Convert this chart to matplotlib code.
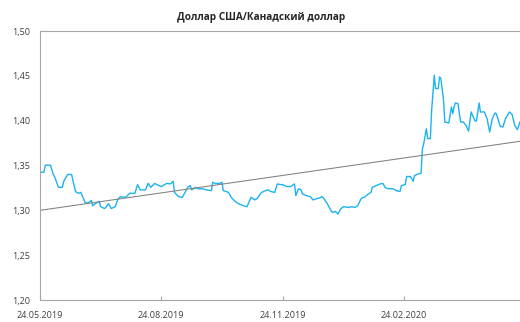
import numpy as np
import pandas as pd
import matplotlib
matplotlib.use('Agg')
import matplotlib.pyplot as plt
import matplotlib.dates as mdates
from matplotlib.ticker import FuncFormatter

plt.rcParams['font.family'] = ['Open Sans', 'DejaVu Sans']

# курс USD/CAD: дни от начальной даты и значения
start = pd.Timestamp('2019-05-24')
days = [0, 3, 4, 8, 10, 11, 14, 17, 18, 21, 24, 25, 27, 29, 31, 33, 34, 36, 39, 40,
        42, 45, 46, 49, 50, 52, 54, 57, 59, 61, 65, 68, 72, 74, 76, 80, 82, 84, 87, 89,
        92, 96, 99, 101, 102, 105, 108, 110, 112, 114, 115, 118, 120, 124, 126, 130, 131, 133, 136, 138,
        139, 143, 145, 148, 150, 154, 157, 160, 163, 165, 168, 171, 173, 175, 178, 180, 182, 184, 187, 190,
        193, 194, 196, 198, 199, 202, 205, 207, 209, 212, 214, 216, 218, 221, 222, 224, 226, 228, 230, 234,
        236, 239, 241, 243, 244, 246, 249, 251, 252, 255, 258, 260, 262, 265, 268, 270, 273, 274, 277, 278,
        281, 283, 284, 287, 289, 290, 291, 293, 294, 296, 297, 299, 300, 302, 303, 304, 306, 307, 310, 312,
        313, 314, 315, 317, 318, 319, 321, 323, 325, 327, 328, 330, 331, 333, 334, 337, 339, 341, 343, 345,
        346, 349, 351, 353, 356, 358, 360, 362, 364]
rate = [1.3425, 1.3425, 1.3503, 1.3503, 1.3400, 1.3377, 1.3257, 1.3257, 1.3324, 1.3400,
        1.3400, 1.3330, 1.3210, 1.3190, 1.3200, 1.3130, 1.3090, 1.3080, 1.3110, 1.3050,
        1.3075, 1.3100, 1.3040, 1.3020, 1.3033, 1.3075, 1.3020, 1.3040, 1.3120, 1.3153,
        1.3145, 1.3190, 1.3190, 1.3287, 1.3228, 1.3228, 1.3302, 1.3257, 1.3300, 1.3284,
        1.3265, 1.3300, 1.3295, 1.3324, 1.3200, 1.3153, 1.3145, 1.3200, 1.3257, 1.3276,
        1.3228, 1.3257, 1.3240, 1.3240, 1.3228, 1.3220, 1.3313, 1.3300, 1.3300, 1.3313,
        1.3220, 1.3200, 1.3145, 1.3100, 1.3078, 1.3052, 1.3040, 1.3145, 1.3116, 1.3138,
        1.3200, 1.3220, 1.3228, 1.3210, 1.3200, 1.3295, 1.3287, 1.3287, 1.3265, 1.3265,
        1.3295, 1.3164, 1.3240, 1.3228, 1.3183, 1.3164, 1.3153, 1.3116, 1.3127, 1.3138,
        1.3153, 1.3116, 1.3071, 1.2988, 1.2977, 1.2988, 1.2959, 1.3015, 1.3040, 1.3033,
        1.3040, 1.3033, 1.3052, 1.3116, 1.3138, 1.3145, 1.3183, 1.3200, 1.3257, 1.3276,
        1.3295, 1.3300, 1.3250, 1.3240, 1.3240, 1.3220, 1.3210, 1.3276, 1.3287, 1.3377,
        1.3377, 1.3324, 1.3388, 1.3407, 1.3414, 1.3687, 1.3743, 1.3910, 1.3800, 1.3800,
        1.4116, 1.4507, 1.4358, 1.4358, 1.4488, 1.4470, 1.4228, 1.3985, 1.3974, 1.4153,
        1.4079, 1.4153, 1.4198, 1.4190, 1.4079, 1.3985, 1.3985, 1.3948, 1.3884, 1.4097,
        1.4060, 1.3996, 1.3996, 1.4198, 1.4097, 1.4097, 1.4023, 1.3873, 1.4023, 1.4086,
        1.4079, 1.3937, 1.3929, 1.4023, 1.4097, 1.4070, 1.3948, 1.3900, 1.3985]
tick_dates = ['2019-05-24', '2019-08-24', '2019-11-24', '2020-02-24']

# линия тренда: значения на краях периода
trend_days = [0, 364]
trend_vals = [1.300, 1.377]

dates = start + pd.to_timedelta(days, unit='D')
end = start + pd.Timedelta(days=364)

fig = plt.figure(figsize=(5.2, 3.22), dpi=100)
ax = fig.add_axes([0.0769, 0.0683, 0.9231, 0.8354])

ax.plot(dates, rate, color='#1CB3EE', lw=1.0)
ax.plot(start + pd.to_timedelta(trend_days, unit='D'), trend_vals, color='#808080', lw=0.75)

ax.set_xlim(start, end)
ax.set_ylim(1.20, 1.50)
ax.set_yticks(np.arange(1.20, 1.501, 0.05))
ax.yaxis.set_major_formatter(FuncFormatter(lambda v, p: f'{v:.2f}'.replace('.', ',')))
ax.set_xticks(pd.to_datetime(tick_dates))
ax.xaxis.set_major_formatter(mdates.DateFormatter('%d.%m.%Y'))

for s in ['left', 'bottom', 'top']:
    ax.spines[s].set_color('#A6A6A6')
    ax.spines[s].set_linewidth(0.8)
ax.spines['right'].set_visible(False)
ax.tick_params(axis='y', length=0, pad=7, labelsize=6.5, colors='#404040')
ax.tick_params(axis='x', length=3, direction='in', pad=8, labelsize=6.5,
               colors='#A6A6A6', labelcolor='#404040')

fig.text(0.502, 0.945, 'Доллар США/Канадский доллар', ha='center', va='center',
         fontsize=7.2, fontweight='bold', color='#262626')

fig.savefig('out.png', dpi=100)
